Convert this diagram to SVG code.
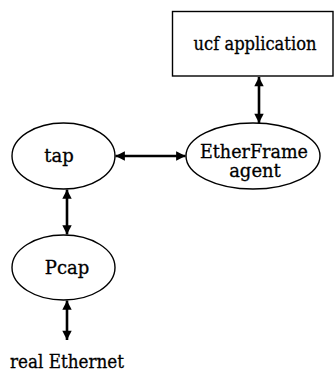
<svg xmlns="http://www.w3.org/2000/svg" width="334" height="374" viewBox="0 0 334 374">
<defs>
<marker id="ah" viewBox="0 0 10 10" refX="10" refY="5" markerWidth="3.8" markerHeight="3.6" markerUnits="strokeWidth" orient="auto-start-reverse">
<path d="M0,0 L10,5 L0,10 Z" fill="#000"/>
</marker>
<style>
.shape{fill:#fff;stroke:#000;stroke-width:1.4}
.lbl{font-family:"DejaVu Serif","Liberation Serif",serif;font-size:18px;fill:#000;stroke:#000;stroke-width:0.3;text-anchor:middle}
.con line{stroke:#000;stroke-width:2.6;marker-start:url(#ah);marker-end:url(#ah)}
</style>
</defs>
<rect width="334" height="374" fill="#fff"/>
<g id="ucf">
<rect class="shape" x="172.5" y="11.5" width="160.5" height="64.5"/>
<text class="lbl" x="255" y="50" textLength="123" lengthAdjust="spacingAndGlyphs">ucf application</text>
</g>
<g id="etherframe">
<ellipse class="shape" cx="253" cy="156" rx="67" ry="33"/>
<text class="lbl" x="254" y="158" textLength="108" lengthAdjust="spacingAndGlyphs">EtherFrame</text>
<text class="lbl" x="255" y="177">agent</text>
</g>
<g id="tap">
<ellipse class="shape" cx="63.5" cy="156" rx="51.5" ry="33"/>
<text class="lbl" x="59" y="162">tap</text>
</g>
<g id="pcap">
<ellipse class="shape" cx="63.5" cy="267.5" rx="51.5" ry="32.5"/>
<text class="lbl" x="67" y="274">Pcap</text>
</g>
<g id="ethernet">
<text class="lbl" x="67" y="368" textLength="114" lengthAdjust="spacingAndGlyphs">real Ethernet</text>
</g>
<g id="connectors" class="con">
<line x1="259" y1="77" x2="259" y2="123"/>
<line x1="115.5" y1="156" x2="185.5" y2="156"/>
<line x1="67" y1="189.5" x2="67" y2="234.5"/>
<line x1="67" y1="300.5" x2="67" y2="340"/>
</g>
</svg>
